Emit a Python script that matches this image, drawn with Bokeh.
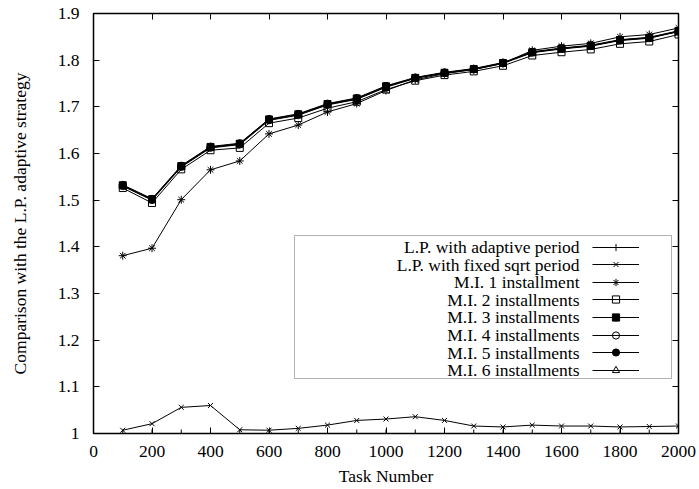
from bokeh.plotting import figure
from bokeh.models import (Legend, LegendItem, Label, BoxAnnotation, LinearAxis,
                          FixedTicker, CustomJSTickFormatter)
from bokeh.embed import file_html
from bokeh.resources import INLINE

# ---------------- data ----------------
tasks = [100, 200, 300, 400, 500, 600, 700, 800, 900, 1000,
         1100, 1200, 1300, 1400, 1500, 1600, 1700, 1800, 1900, 2000]

lp_adaptive = [1.0, 1.0, 1.0, 1.0, 1.0, 1.0, 1.0, 1.0, 1.0, 1.0,
               1.0, 1.0, 1.0, 1.0, 1.0, 1.0, 1.0, 1.0, 1.0, 1.0]
lp_sqrt = [1.007, 1.021, 1.056, 1.060, 1.008, 1.007, 1.011, 1.018, 1.028, 1.031,
           1.036, 1.028, 1.016, 1.014, 1.018, 1.016, 1.016, 1.014, 1.015, 1.016]
mi1 = [1.381, 1.397, 1.501, 1.565, 1.584, 1.642, 1.661, 1.689, 1.707, 1.735,
       1.758, 1.771, 1.780, 1.793, 1.821, 1.830, 1.836, 1.850, 1.855, 1.869]
mi2 = [1.526, 1.494, 1.566, 1.607, 1.612, 1.665, 1.676, 1.697, 1.711, 1.737,
       1.756, 1.768, 1.776, 1.788, 1.810, 1.817, 1.823, 1.835, 1.840, 1.855]
mi3 = [1.532, 1.502, 1.573, 1.614, 1.621, 1.673, 1.684, 1.706, 1.718, 1.744,
       1.762, 1.773, 1.781, 1.794, 1.817, 1.825, 1.831, 1.843, 1.848, 1.862]
mi4 = [1.530, 1.500, 1.571, 1.612, 1.619, 1.671, 1.682, 1.704, 1.716, 1.742,
       1.761, 1.772, 1.780, 1.793, 1.816, 1.824, 1.830, 1.842, 1.847, 1.861]
mi5 = [1.533, 1.503, 1.574, 1.615, 1.622, 1.674, 1.685, 1.707, 1.719, 1.745,
       1.763, 1.774, 1.782, 1.795, 1.818, 1.826, 1.832, 1.844, 1.849, 1.863]
mi6 = [1.531, 1.501, 1.572, 1.613, 1.620, 1.672, 1.683, 1.705, 1.717, 1.743,
       1.762, 1.773, 1.781, 1.794, 1.817, 1.825, 1.831, 1.843, 1.848, 1.862]

series_names = ["L.P. with adaptive period", "L.P. with fixed sqrt period",
                "M.I. 1 installment", "M.I. 2 installments", "M.I. 3 installments",
                "M.I. 4 installments", "M.I. 5 installments", "M.I. 6 installments"]
series_values = [lp_adaptive, lp_sqrt, mi1, mi2, mi3, mi4, mi5, mi6]

x_ticks = [0, 200, 400, 600, 800, 1000, 1200, 1400, 1600, 1800, 2000]
y_ticks = [1.0, 1.1, 1.2, 1.3, 1.4, 1.5, 1.6, 1.7, 1.8, 1.9]
x_label = "Task Number"
y_label = "Comparison with the L.P. adaptive strategy"

# ---------------- styles ----------------
# (marker, size, fill) ; open gnuplot markers are hollow
markers = [("cross", 8, "black"), ("x", 7, "black"), ("asterisk", 8, "black"),
           ("square", 7, None), ("square", 7, "black"), ("circle", 7, None),
           ("circle", 7, "black"), ("triangle", 7, None)]
FONT = "Liberation Serif"
FS = "17.5px"

W, H = 699, 489
# layout (picture pixels)
FR_L, FR_R, FR_T, FR_B = 93, 678, 13, 433
X0, X1, Y0, Y1 = 0, 2000, 1.0, 1.9


def xd(px):
    return X0 + (px - FR_L) / (FR_R - FR_L) * (X1 - X0)


def yd(py):
    return Y1 - (py - FR_T) / (FR_B - FR_T) * (Y1 - Y0)


p = figure(width=W, height=H, x_range=(X0, X1), y_range=(Y0, Y1),
           output_backend="svg", toolbar_location=None,
           min_border_left=FR_L, min_border_right=W - FR_R,
           min_border_top=FR_T, min_border_bottom=H - FR_B)
p.xgrid.visible = False
p.ygrid.visible = False
p.outline_line_color = "black"
p.outline_line_width = 1.5
p.outline_line_alpha = 1.0
p.background_fill_color = "white"
p.border_fill_color = "white"

fmt_y = CustomJSTickFormatter(code="return String(Math.round(tick*10)/10)")


def style_axis(ax, ticks, show_labels):
    ax.ticker = FixedTicker(ticks=ticks)
    ax.axis_line_color = None
    ax.major_tick_in = 6
    ax.major_tick_out = 0
    ax.major_tick_line_color = "black"
    ax.major_tick_line_width = 1
    ax.minor_tick_line_color = None
    ax.major_label_text_font = FONT
    ax.major_label_text_color = "black"
    if show_labels:
        ax.major_label_text_font_size = FS
        ax.axis_label_text_font = FONT
        ax.axis_label_text_font_size = FS
        ax.axis_label_text_font_style = "normal"
        ax.axis_label_text_color = "black"
    else:
        ax.major_label_text_font_size = "0px"
        ax.major_label_standoff = 0


style_axis(p.xaxis[0], x_ticks, True)
style_axis(p.yaxis[0], y_ticks, True)
p.xaxis[0].major_label_standoff = 12
p.xaxis[0].axis_label = x_label
p.xaxis[0].axis_label_standoff = 6
p.yaxis[0].major_label_standoff = 14
p.yaxis[0].formatter = fmt_y
p.yaxis[0].axis_label = y_label
p.yaxis[0].axis_label_standoff = 25

top_ax = LinearAxis()
style_axis(top_ax, x_ticks, False)
p.add_layout(top_ax, "above")
right_ax = LinearAxis()
style_axis(right_ax, y_ticks, False)
p.add_layout(right_ax, "right")

# ---------------- series ----------------
renderers = []
for vals, (mk, sz, fill) in zip(series_values, markers):
    ln = p.line(tasks, vals, line_color="black", line_width=1)
    sc = p.scatter(tasks, vals, marker=mk, size=sz, line_color="black",
                   fill_color=fill, line_width=1)
    renderers.append([ln, sc])

# ---------------- legend ----------------
LEG_L, LEG_R, LEG_T, LEG_B = 294, 671, 235, 378
ROW0, PITCH = 246.7, 17.57
TXT_R, SAMP_L, SAMP_W, GH = 579, 592, 47, 18

p.add_layout(BoxAnnotation(left=xd(LEG_L), right=xd(LEG_R), top=yd(LEG_T), bottom=yd(LEG_B),
                           fill_color="white", fill_alpha=1.0, line_color="black",
                           line_width=1, level="overlay"))

for i, (name, rs) in enumerate(zip(series_names, renderers)):
    yc = ROW0 + i * PITCH
    leg = Legend(items=[LegendItem(label=" ", renderers=rs)],
                 location=(SAMP_L - FR_L, FR_B - yc - GH / 2),
                 orientation="vertical", padding=0, margin=0, spacing=0,
                 glyph_width=SAMP_W, glyph_height=GH, label_width=0, label_height=GH,
                 label_standoff=0, label_text_font_size="1px",
                 border_line_color=None, background_fill_alpha=0,
                 level="overlay")
    p.add_layout(leg, "center")
    p.add_layout(Label(x=xd(TXT_R), y=yd(yc), text=name, text_font=FONT,
                       text_font_size=FS, text_align="right", text_baseline="middle",
                       text_color="black", level="overlay"))

open("out.html", "w").write(file_html(p, INLINE))
